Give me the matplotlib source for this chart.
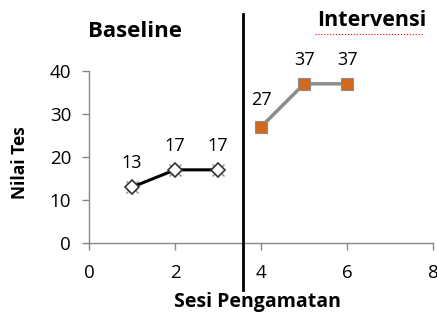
import matplotlib.pyplot as plt
from matplotlib.lines import Line2D

# data
sesi_baseline = [1, 2, 3]
nilai_baseline = [13, 17, 17]
sesi_intervensi = [4, 5, 6]
nilai_intervensi = [27, 37, 37]
phase_split = 3.58

plt.rcParams['font.family'] = ['Open Sans', 'DejaVu Sans']

fig = plt.figure(figsize=(4.37, 3.18), dpi=100)
ax = fig.add_axes([0.204, 0.236, 0.787, 0.541])

ax.plot(sesi_baseline, nilai_baseline, color='black', lw=2.2,
        marker='D', ms=7, mfc='white', mec='#333333', mew=1.2, zorder=3)
ax.plot(sesi_baseline, nilai_baseline, ls='none', marker='x', ms=9,
        mec='#7f8fb0', mew=1, zorder=2)
ax.plot(sesi_intervensi, nilai_intervensi, color='#8c8c8c', lw=2.5,
        marker='s', ms=8, mfc='#d2691e', mec='#8c8c8c', mew=0.8, zorder=3)

for x, y in zip(sesi_baseline, nilai_baseline):
    ax.annotate(str(y), (x, y), xytext=(0, 11), textcoords='offset points',
                ha='center', va='bottom', fontsize=13)
for i, (x, y) in enumerate(zip(sesi_intervensi, nilai_intervensi)):
    off = (0, 11) if i else (0, 13)
    ax.annotate(str(y), (x, y), xytext=off, textcoords='offset points',
                ha='center', va='bottom', fontsize=13)

ax.set_xlim(0, 8)
ax.set_ylim(0, 40)
ax.set_xticks([0, 2, 4, 6, 8])
ax.set_yticks([0, 10, 20, 30, 40])
ax.tick_params(labelsize=13.5, color='#888888', length=5, width=1, pad=8)
ax.tick_params(axis='x', pad=10)
for s in ['top', 'right']:
    ax.spines[s].set_visible(False)
for s in ['left', 'bottom']:
    ax.spines[s].set_color('#888888')
    ax.spines[s].set_linewidth(1)

fig.text(0.046, 0.49, 'Nilai Tes', rotation=90, ha='center', va='center',
         fontsize=12.5, fontweight='bold')
fig.text(0.59, 0.05, 'Sesi Pengamatan', ha='center', va='center',
         fontsize=14, fontweight='bold')
fig.text(0.31, 0.90, 'Baseline', ha='center', va='center',
         fontsize=16, fontweight='bold')
fig.text(0.85, 0.935, 'Intervensi', ha='center', va='center',
         fontsize=15.5, fontweight='bold')
fig.add_artist(Line2D([0.72, 0.97], [0.893, 0.893], color='red', lw=0.8,
                      ls=':'))

xf = ax.transData.transform((phase_split, 0))[0] / fig.bbox.width
fig.add_artist(Line2D([xf, xf], [0.088, 0.956], color='black', lw=2))

fig.savefig('out.png', dpi=100)
